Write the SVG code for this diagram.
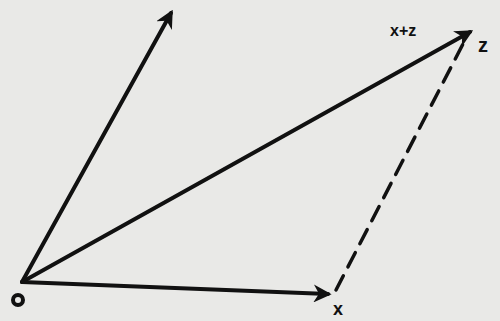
<svg xmlns="http://www.w3.org/2000/svg" width="500" height="321" viewBox="0 0 500 321">
<style>
.v{stroke:#111;stroke-width:4;fill:none;stroke-linecap:round}
.d{stroke:#111;stroke-width:3.5;fill:none;stroke-dasharray:16 10;stroke-linecap:round}
.t{font-family:"Liberation Sans",sans-serif;font-weight:bold;fill:#111}
</style>
<defs>
<marker id="ah" viewBox="0 0 10 10" refX="8" refY="5" markerWidth="4.5" markerHeight="4.5" orient="auto" markerUnits="strokeWidth">
<path d="M0,0 L10,5 L0,10 L3,5 Z" fill="#111"/>
</marker>
</defs>
<rect width="500" height="321" fill="#e9e9e7"/>
<g id="connectors">
<line class="v" x1="22" y1="282" x2="171" y2="13" marker-end="url(#ah)"/>
<line class="v" x1="22" y1="282" x2="470" y2="32" marker-end="url(#ah)"/>
<line class="v" x1="22" y1="282" x2="328" y2="294" marker-end="url(#ah)"/>
<line class="d" x1="336" y1="290" x2="464" y2="42"/>
</g>
<g id="origin"><circle cx="18" cy="300" r="5" fill="none" stroke="#111" stroke-width="4"/></g>
<g id="label-x"><text class="t" x="333" y="315" font-size="18">x</text></g>
<g id="label-z"><text class="t" x="478" y="52" font-size="20">z</text></g>
<g id="label-xz"><text class="t" x="390" y="36" font-size="16">x+z</text></g>
</svg>
